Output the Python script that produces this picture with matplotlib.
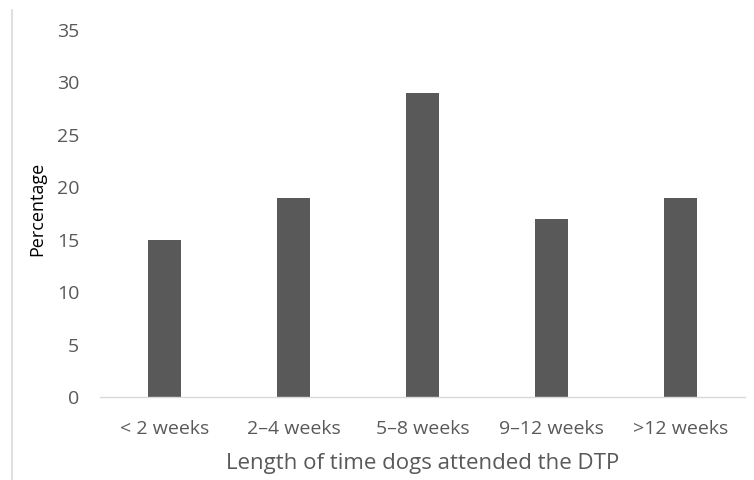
import matplotlib.pyplot as plt
from matplotlib.lines import Line2D

categories = ['< 2 weeks', '2\u20134 weeks', '5\u20138 weeks', '9\u201312 weeks', '>12 weeks']
percentages = [15, 19, 29, 17, 19]
y_ticks = [0, 5, 10, 15, 20, 25, 30, 35]

plt.rcParams['font.family'] = ['Open Sans', 'DejaVu Sans']

fig = plt.figure(figsize=(7.54, 4.8), dpi=100)
ax = fig.add_axes([100 / 754, 83 / 480, 645 / 754, 367 / 480])

x = list(range(len(categories)))
ax.bar(x, percentages, width=0.255, color='#595959')

ax.set_xlim(-0.5, len(categories) - 0.5)
ax.set_ylim(0, 35)
ax.set_yticks(y_ticks)
ax.set_xticks(x)
ax.set_xticklabels(categories)

for side in ['top', 'right', 'left']:
    ax.spines[side].set_visible(False)
ax.spines['bottom'].set_color('#d9d9d9')
ax.spines['bottom'].set_linewidth(1.0)
ax.tick_params(axis='both', length=0, labelsize=14, labelcolor='#595959')
ax.tick_params(axis='x', pad=16.5)
ax.tick_params(axis='y', pad=15)

ax.set_xlabel('Length of time dogs attended the DTP', fontsize=16, color='#595959', labelpad=11)
ax.set_ylabel('Percentage', fontsize=13, color='black')
ax.yaxis.set_label_coords(-0.084, 0.512)

# thin frame edge on the left
fig.add_artist(Line2D([12 / 754, 12 / 754], [0, 470 / 480], transform=fig.transFigure,
                      color='#d9d9d9', linewidth=1.2))

fig.savefig('out.png', dpi=100)
